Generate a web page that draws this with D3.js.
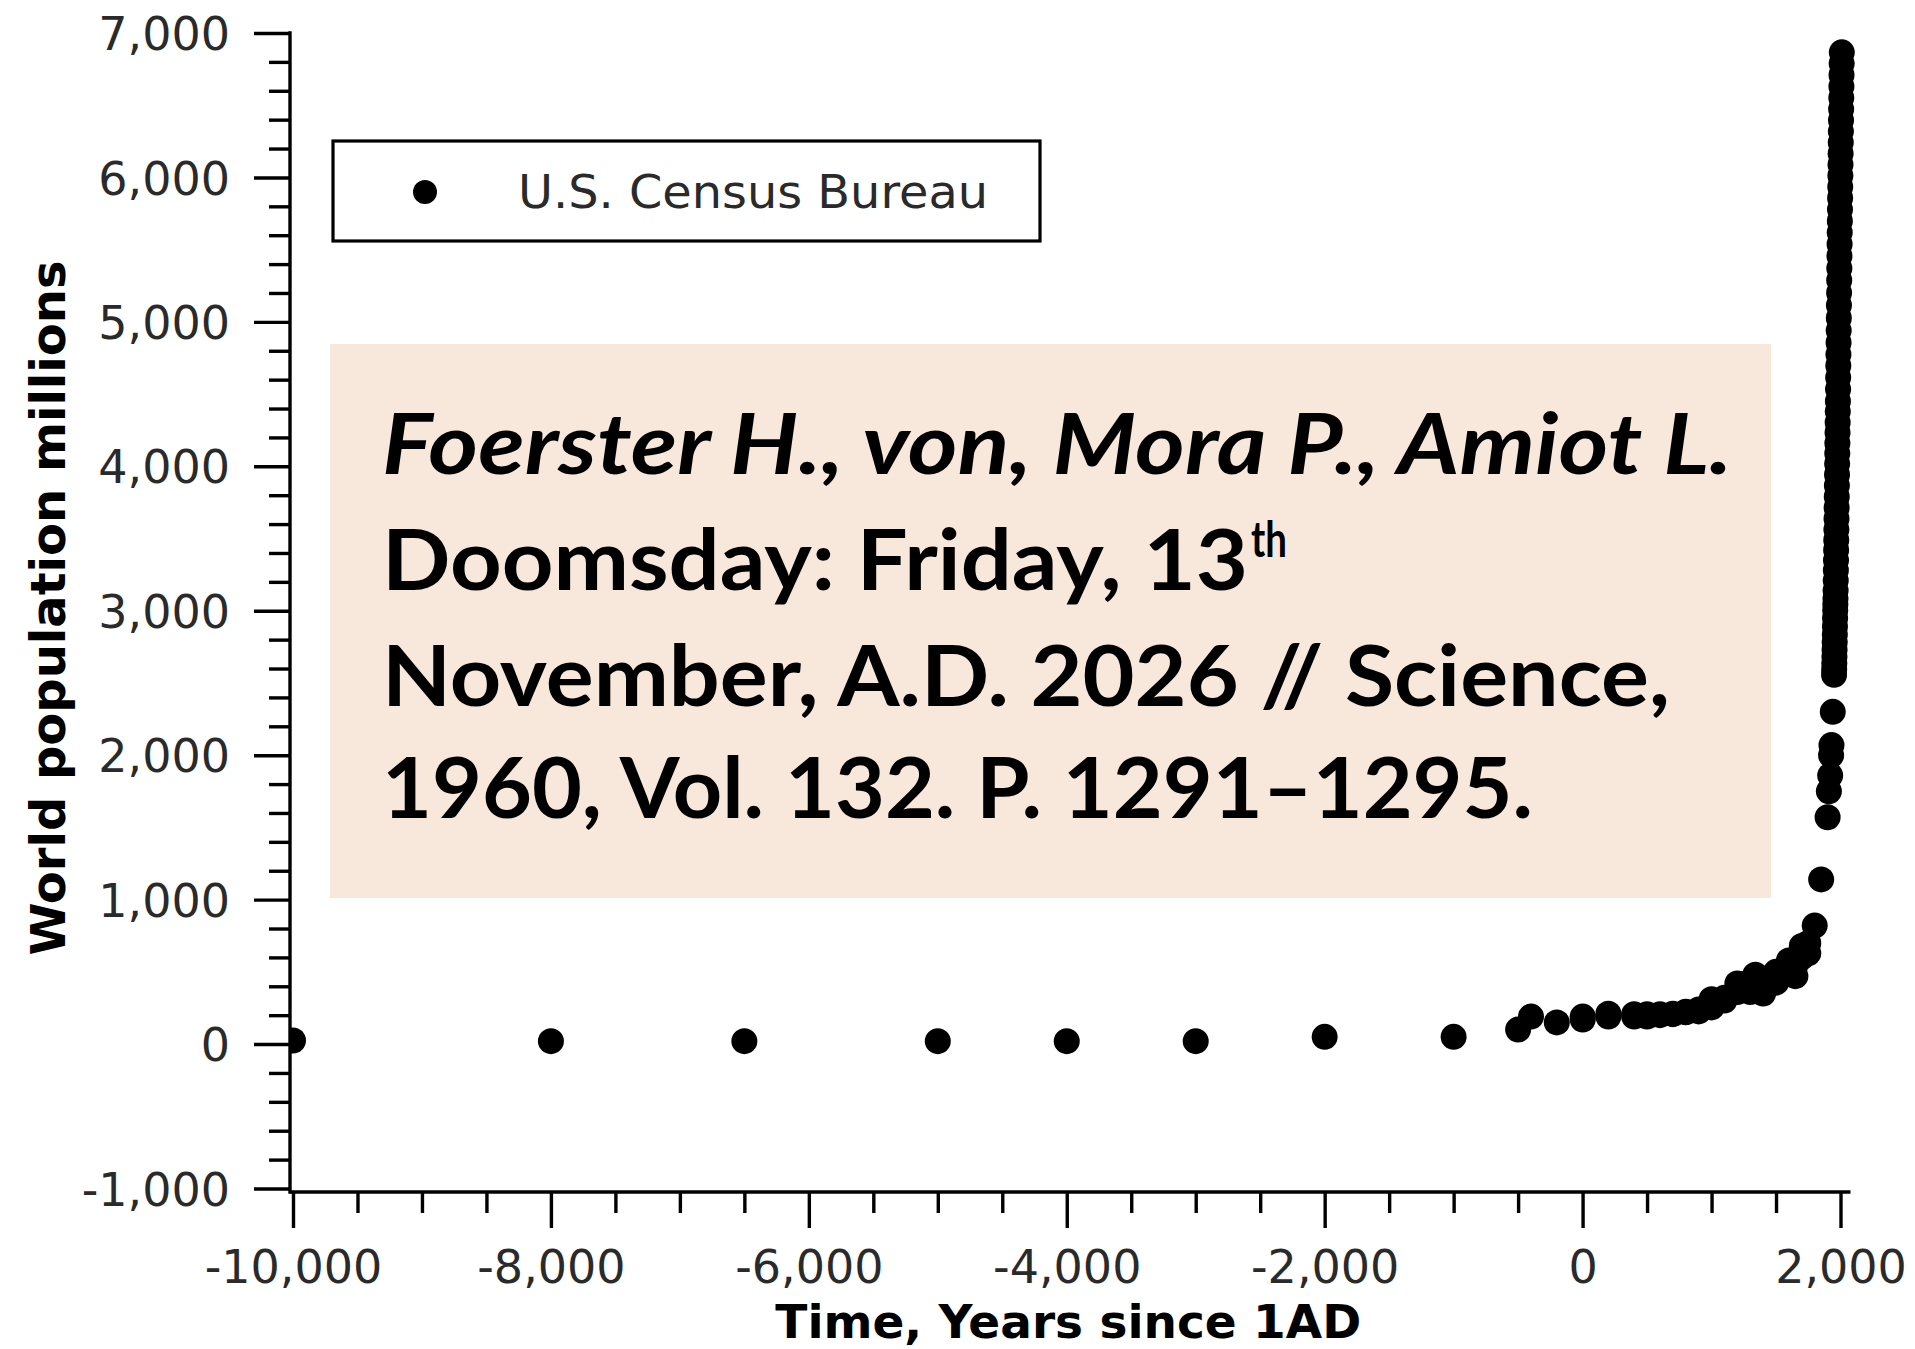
<!DOCTYPE html>
<html>
<head>
<meta charset="utf-8">
<script src="https://cdn.jsdelivr.net/npm/d3@7"></script>
<style>
  html, body { margin: 0; padding: 0; background: #ffffff; }
  svg { display: block; }
</style>
</head>
<body>
<svg id="chart" width="1915" height="1349"></svg>
<script>
// ---------------- DATA ----------------
const xMajorTicks = [-10000, -8000, -6000, -4000, -2000, 0, 2000];
const xMajorLabels = ["-10,000", "-8,000", "-6,000", "-4,000", "-2,000", "0", "2,000"];
const yMajorTicks = [-1000, 0, 1000, 2000, 3000, 4000, 5000, 6000, 7000];
const yMajorLabels = ["-1,000", "0", "1,000", "2,000", "3,000", "4,000", "5,000", "6,000", "7,000"];

const xTitle = "Time, Years since 1AD";
const yTitle = "World population millions";
const seriesName = "U.S. Census Bureau";

// Years (since 1AD) and world population (millions), U.S. Census Bureau estimates
const years = [
  -10000, -8000, -6500, -5000, -4000, -3000, -2000, -1000,
  -500, -400, -200, 1, 1, 200, 200, 400, 400, 500, 500, 600, 600,
  700, 700, 800, 800, 900, 900, 1000, 1000, 1100, 1100, 1200, 1200,
  1250, 1250, 1300, 1300, 1340, 1340, 1400, 1400, 1500, 1500,
  1600, 1600, 1650, 1650, 1700, 1700, 1750, 1750, 1800, 1850,
  1900, 1910, 1920, 1927, 1930, 1940,
  1950, 1951, 1952, 1953, 1954, 1955, 1956, 1957, 1958, 1959,
  1960, 1961, 1962, 1963, 1964, 1965, 1966, 1967, 1968, 1969,
  1970, 1971, 1972, 1973, 1974, 1975, 1976, 1977, 1978, 1979,
  1980, 1981, 1982, 1983, 1984, 1985, 1986, 1987, 1988, 1989,
  1990, 1991, 1992, 1993, 1994, 1995, 1996, 1997, 1998, 1999,
  2000, 2001, 2002, 2003, 2004, 2005, 2006, 2007, 2008, 2009, 2010
];
const population = [
  25, 20, 20, 20, 20, 20, 50, 50,
  100, 190, 150, 170, 190, 190, 210, 190, 206, 190, 206, 200, 206,
  207, 210, 220, 224, 226, 240, 254, 310, 301, 320, 360, 420,
  400, 416, 360, 432, 443, 480, 350, 374, 425, 500,
  545, 579, 470, 545, 600, 679, 629, 700, 820, 1140,
  1570, 1750, 1860, 2000, 2070, 2300,
  2557, 2594, 2636, 2682, 2730, 2782, 2835, 2891, 2948, 3001,
  3043, 3084, 3140, 3210, 3281, 3350, 3421, 3490, 3562, 3637,
  3713, 3790, 3867, 3942, 4017, 4089, 4160, 4232, 4304, 4379,
  4451, 4534, 4615, 4696, 4775, 4856, 4941, 5027, 5115, 5201,
  5289, 5372, 5456, 5538, 5619, 5699, 5779, 5858, 5935, 6012,
  6089, 6165, 6242, 6319, 6396, 6473, 6551, 6630, 6709, 6788, 6866
];

const noteLine1 = "Foerster H., von, Mora P., Amiot L.";
const noteLine2 = "Doomsday: Friday, 13";
const noteLine2Sup = "th";
const noteLine3 = "November, A.D. 2026 // Science,";
const noteLine4 = "1960, Vol. 132. P. 1291\u20131295.";

// ---------------- LAYOUT ----------------
const svg = d3.select("#chart");
svg.append("rect").attr("width", 1915).attr("height", 1349).attr("fill", "#ffffff");

const x = d3.scaleLinear().domain([-10000, 2000]).range([293, 1840.5]);
const y = d3.scaleLinear().domain([-1000, 7000]).range([1188.5, 33]);

const axisX0 = 290;    // y-axis line position
const axisY0 = 1192;   // x-axis line position
const tickFont = "'DejaVu Sans', sans-serif";
const tickColor = "#2a2a2a";
const lw = 3.4;

// clip for the plotting area (points left of the y axis are cut)
svg.append("defs").append("clipPath").attr("id", "plotclip")
  .append("rect").attr("x", axisX0).attr("y", 0).attr("width", 1915 - axisX0).attr("height", axisY0);

// Y axis: minor ticks
const yMinor = d3.range(-1000, 7001, 200).filter(v => v % 1000 !== 0);
const gyMinor = svg.append("g").attr("transform", `translate(${axisX0},0)`)
  .call(d3.axisLeft(y).tickValues(yMinor).tickSize(21).tickFormat(""));
const gy = svg.append("g").attr("transform", `translate(${axisX0},0)`)
  .call(d3.axisLeft(y).tickValues(yMajorTicks).tickSize(36).tickPadding(24)
    .tickFormat((d, i) => yMajorLabels[i]));
[gyMinor, gy].forEach(g => {
  g.select(".domain").remove();
  g.selectAll("line").attr("stroke", "#000").attr("stroke-width", lw);
});
gy.selectAll("text")
  .attr("font-family", tickFont).attr("font-size", 46).attr("fill", tickColor)
  .attr("dy", "0.36em");

// X axis: minor ticks
const xMinor = d3.range(-10000, 2001, 500).filter(v => v % 2000 !== 0);
const gxMinor = svg.append("g").attr("transform", `translate(0,${axisY0})`)
  .call(d3.axisBottom(x).tickValues(xMinor).tickSize(21).tickFormat(""));
const gx = svg.append("g").attr("transform", `translate(0,${axisY0})`)
  .call(d3.axisBottom(x).tickValues(xMajorTicks).tickSize(36).tickPadding(22)
    .tickFormat((d, i) => xMajorLabels[i]));
[gxMinor, gx].forEach(g => {
  g.select(".domain").remove();
  g.selectAll("line").attr("stroke", "#000").attr("stroke-width", lw);
});
gx.selectAll("text")
  .attr("font-family", tickFont).attr("font-size", 46).attr("fill", tickColor);

// axis lines
svg.append("line").attr("x1", axisX0).attr("x2", axisX0)
  .attr("y1", y(7000) - lw / 2).attr("y2", axisY0 + lw / 2)
  .attr("stroke", "#000").attr("stroke-width", lw);
svg.append("line").attr("x1", axisX0).attr("x2", x(2000) + 10)
  .attr("y1", axisY0).attr("y2", axisY0)
  .attr("stroke", "#000").attr("stroke-width", lw);

// Axis titles
svg.append("text")
  .attr("x", (axisX0 + x(2000)) / 2 + 3).attr("y", 1338)
  .attr("text-anchor", "middle")
  .attr("font-family", tickFont).attr("font-weight", "bold").attr("font-size", 47)
  .attr("fill", "#000").text(xTitle);
svg.append("text")
  .attr("transform", "translate(65,608) rotate(-90)")
  .attr("text-anchor", "middle")
  .attr("font-family", tickFont).attr("font-weight", "bold").attr("font-size", 48)
  .attr("fill", "#000").text(yTitle);

// Data points
const pts = years.map((yr, i) => ({ yr, v: population[i] }));
svg.append("g").attr("clip-path", "url(#plotclip)")
  .selectAll("circle").data(pts).join("circle")
  .attr("cx", d => x(d.yr)).attr("cy", d => y(d.v)).attr("r", 13)
  .attr("fill", "#000");

// Legend
const lg = svg.append("g");
lg.append("rect").attr("x", 333).attr("y", 141).attr("width", 707).attr("height", 100)
  .attr("fill", "#fff").attr("stroke", "#000").attr("stroke-width", 3.2);
lg.append("circle").attr("cx", 425).attr("cy", 192).attr("r", 12).attr("fill", "#000");
lg.append("text").attr("x", 518).attr("y", 208)
  .attr("font-family", tickFont).attr("font-size", 46).attr("fill", tickColor)
  .attr("textLength", 470).attr("lengthAdjust", "spacingAndGlyphs")
  .text(seriesName);

// Reference note box
const nb = svg.append("g");
nb.append("rect").attr("x", 330).attr("y", 344).attr("width", 1441).attr("height", 554)
  .attr("fill", "#F8E8DB");
const noteFont = "Lato, 'Open Sans', sans-serif";
function noteText(str, xx, yy, len, italic, size) {
  return nb.append("text").attr("x", xx).attr("y", yy)
    .attr("font-family", noteFont).attr("font-weight", "bold")
    .attr("font-style", italic ? "italic" : "normal")
    .attr("font-size", size).attr("fill", "#000")
    .attr("textLength", len).attr("lengthAdjust", "spacingAndGlyphs")
    .text(str);
}
noteText(noteLine1, 382, 474, 1350, true, 84);
noteText(noteLine2, 382, 590, 866, false, 84);
noteText(noteLine2Sup, 1251, 557, 36, false, 50);
noteText(noteLine3, 382, 706, 1288, false, 84);
noteText(noteLine4, 382, 818, 1151, false, 84);
</script>
</body>
</html>
